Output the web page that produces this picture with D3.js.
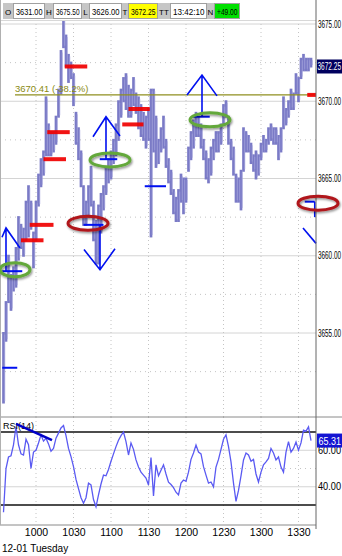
<!DOCTYPE html>
<html>
<head>
<meta charset="utf-8">
<script src="https://cdn.jsdelivr.net/npm/d3@7"></script>
<style>
body { margin: 0; background: #fff; }
svg { display: block; font-family: 'Liberation Sans', Arial, sans-serif; }
</style>
</head>
<body>
<script>
// 2 minute bars, first one at 09:34 (minutes since midnight)
var barStart = 574
var barStep = 2

var highs = [3655.0, 3657.0, 3660.0, 3658.75, 3659.25, 3660.5, 3662.5, 3662.0, 3661.75, 3663.5,
    3664.5, 3663.5, 3661.5, 3663.5, 3665.25, 3666.25, 3666.75, 3670.25, 3668.5, 3668.0,
    3668.0, 3669.0, 3670.75, 3673.25, 3675.5, 3674.25, 3673.0, 3672.5, 3671.75, 3669.25,
    3668.25, 3666.75, 3664.5, 3663.5, 3664.5, 3665.75, 3663.5, 3662.25, 3663.25, 3664.0,
    3664.5, 3665.75, 3666.25, 3666.75, 3667.5, 3668.5, 3670.0, 3670.75, 3671.5, 3671.75,
    3671.0, 3670.75, 3671.5, 3670.5, 3670.25, 3669.75, 3669.25, 3669.0, 3669.5, 3670.75,
    3670.75, 3669.0, 3667.5, 3668.25, 3669.0, 3667.5, 3666.25, 3665.5, 3664.25, 3663.75,
    3664.25, 3665.25, 3665.0, 3665.0, 3667.0, 3668.0, 3668.75, 3669.25, 3669.0, 3668.5,
    3667.5, 3666.75, 3666.25, 3667.0, 3667.5, 3668.0, 3668.0, 3668.5, 3669.75, 3670.0,
    3669.0, 3667.5, 3667.0, 3665.25, 3665.0, 3665.5, 3668.25, 3668.0, 3667.75, 3667.25,
    3666.5, 3666.75, 3666.5, 3667.25, 3667.75, 3667.5, 3668.25, 3668.5, 3668.25, 3668.25,
    3667.75, 3668.25, 3670.25, 3669.5, 3670.0, 3670.75, 3670.5, 3671.75, 3671.5, 3672.75,
    3673.0, 3672.75, 3672.75, 3672.75]

var lows = [3650.5, 3654.5, 3657.0, 3656.5, 3657.75, 3658.0, 3659.75, 3660.5, 3660.0, 3661.0,
    3661.25, 3661.75, 3659.25, 3661.0, 3663.25, 3664.5, 3665.25, 3666.5, 3666.5, 3666.5,
    3666.75, 3667.25, 3669.0, 3670.5, 3673.5, 3672.25, 3671.25, 3671.5, 3669.75, 3667.25,
    3666.25, 3664.5, 3662.0, 3662.0, 3662.5, 3663.25, 3661.0, 3659.5, 3659.5, 3661.5,
    3663.0, 3664.0, 3664.75, 3665.0, 3666.0, 3666.5, 3667.5, 3669.0, 3670.0, 3669.5,
    3669.0, 3669.0, 3669.75, 3669.25, 3668.25, 3667.75, 3667.5, 3667.0, 3667.5, 3661.25,
    3666.75, 3665.75, 3666.0, 3666.75, 3667.0, 3665.75, 3664.75, 3664.0, 3662.75, 3662.25,
    3662.25, 3663.5, 3662.75, 3663.5, 3665.5, 3666.25, 3667.0, 3667.75, 3667.75, 3667.0,
    3666.25, 3665.0, 3664.75, 3665.25, 3666.25, 3666.75, 3666.75, 3667.25, 3668.5, 3669.0,
    3667.25, 3666.25, 3665.25, 3663.5, 3663.5, 3663.0, 3665.5, 3666.75, 3666.75, 3666.0,
    3665.5, 3665.0, 3665.25, 3666.25, 3666.75, 3666.75, 3667.25, 3667.5, 3667.25, 3667.25,
    3666.25, 3666.75, 3668.25, 3668.5, 3669.0, 3669.5, 3669.5, 3670.5, 3670.0, 3671.5,
    3672.0, 3672.0, 3672.0, 3672.25]

var rsi = [26, 50, 56.3, 57, 63, 73, 63, 58, 57.4, 66,
    63, 50, 59, 60, 64, 68.4, 65, 66.6, 63.5, 59.5,
    61, 66.6, 69.4, 72.2, 73.5, 68, 61, 56.5, 51, 44,
    39, 34, 31, 34, 42, 41, 33, 29, 35.5, 41.5,
    46.4, 46, 49.5, 54, 58, 62, 65.5, 68, 70, 64.7,
    57.4, 64, 60.5, 54.7, 50.8, 48, 46.4, 44.8, 41, 56,
    35, 52, 46, 49, 52, 47, 42.5, 41.2, 39.5, 37,
    35.5, 42, 43.7, 43, 48, 55, 58.5, 62.9, 59, 58,
    51, 46.4, 42, 42.6, 40, 50.8, 55, 60.5, 66, 68.4,
    62, 53.6, 42, 32, 38, 46, 54.7, 58.5, 57.4, 54,
    55, 47, 42.6, 48, 52, 53.6, 55.5, 61, 58.5, 54.7,
    56.3, 50.8, 48, 59, 64.7, 59, 61, 64.5, 60, 64,
    71, 70.5, 72.8, 65.31]

var lastPrice = 3672.25
var lastRsi = 65.31
var priceTicks = [3655, 3660, 3665, 3670, 3675]
var priceMinor = [3652.5, 3657.5, 3662.5, 3667.5, 3672.5]
var rsiTicks = [40, 60]
var rsiBands = [30, 70]
var timeTicks = [600, 630, 660, 690, 720, 750, 780, 810]
var timeLabels = ['1000', '1030', '1100', '1130', '1200', '1230', '1300', '1330']
var dateLabel = '12-01 Tuesday'

var headLabels = ['O', 'H', 'L', 'T', 'TT', 'N']
var headValues = ['3631.00', '3675.50', '3626.00', '3672.25', '13:42:10', '+49.00']

var fibPrice = 3670.41
var fibLabel = '3670.41 (-38.2%)'

// red levels: [from, to, price]
var redLevels = [[623, 641, 3672.25], [609, 627, 3668.0], [606, 624, 3666.25], [595, 614, 3662.0],
    [588, 606, 3661.0], [674, 691, 3669.5], [669, 686, 3668.5], [817, 824, fibPrice]]
// blue pivot marks: [from, to, price]
var pivots = [[573, 585, 3652.75], [573, 589, 3659.0], [638, 654, 3662.0], [651, 665, 3666.25],
    [687, 704, 3664.5], [725, 739, 3669.0], [815, 823, 3663.5]]
// arrows: tip, left end, right end, stem end  ([time, price])
var arrows = [
    [[576, 3661.8], [572.8, 3661.2], [587.2, 3660.5], [576, 3659.0]],
    [[651.2, 3659.1], [638.4, 3660.4], [663.2, 3660.45], [651.2, 3662.0]],
    [[656, 3669.0], [645.6, 3667.7], [667.2, 3667.75], [656, 3666.25]],
    [[732.8, 3671.7], [720.8, 3670.4], [744.8, 3670.35], [732.8, 3669.0]]
]
var stubs = [[[823, 3663.5], [823, 3662.5]], [[813.6, 3661.8], [824, 3660.8]]]
// circled setups: [time, price, kind]
var rings = [[583.2, 3659.1, 'g'], [641.6, 3662.1, 'r'], [659.2, 3666.2, 'g'],
    [739.2, 3668.8, 'g'], [825.6, 3663.4, 'r']]
// rsi trend line
var rsiTrend = [[584, 74.4], [612.8, 65.6]]

var width = 342, height = 556
var axisX = 316

var svg = d3.select('body').append('svg')
    .attr('width', width)
    .attr('height', height)

var defs = svg.append('defs')
defs.append('filter').attr('id', 'shade')
    .attr('x', '-30%').attr('y', '-60%').attr('width', '160%').attr('height', '220%')
    .append('feDropShadow')
    .attr('dx', 1).attr('dy', 1.5).attr('stdDeviation', 1.3)
    .attr('flood-color', '#000').attr('flood-opacity', 0.45)
defs.append('clipPath').attr('id', 'plot')
    .append('rect').attr('x', 0).attr('y', 20).attr('width', axisX).attr('height', 397)

var x = d3.scaleLinear().domain([571.2, 824]).range([0, axisX])
var y = d3.scaleLinear().domain([3655, 3675]).range([333, 24])
var yr = d3.scaleLinear().domain([30, 70]).range([505, 432])

function barTime(i) { return barStart + i * barStep }

// price panel grid
var grid = svg.append('g')
grid.selectAll('.hmaj').data(priceTicks).enter().append('line')
    .attr('x1', 0).attr('x2', axisX)
    .attr('y1', d => y(d)).attr('y2', d => y(d))
    .attr('stroke', '#d4d4d4')
grid.selectAll('.hmin').data(priceMinor).enter().append('line')
    .attr('x1', 0).attr('x2', axisX)
    .attr('y1', d => y(d)).attr('y2', d => y(d))
    .attr('stroke', '#c4c4c4').attr('stroke-dasharray', '1,4')
grid.selectAll('.v').data(timeTicks).enter().append('line')
    .attr('x1', d => x(d)).attr('x2', d => x(d))
    .attr('y1', 20).attr('y2', 417)
    .attr('stroke', '#c4c4c4').attr('stroke-dasharray', '1,3')

// rsi grid
grid.selectAll('.rh').data(rsiTicks).enter().append('line')
    .attr('x1', 0).attr('x2', axisX)
    .attr('y1', d => yr(d)).attr('y2', d => yr(d))
    .attr('stroke', '#d4d4d4')
grid.append('line')
    .attr('x1', 0).attr('x2', axisX)
    .attr('y1', yr(50)).attr('y2', yr(50))
    .attr('stroke', '#c4c4c4').attr('stroke-dasharray', '1,4')
grid.selectAll('.rv').data(timeTicks).enter().append('line')
    .attr('x1', d => x(d)).attr('x2', d => x(d))
    .attr('y1', 417).attr('y2', 525)
    .attr('stroke', '#c4c4c4').attr('stroke-dasharray', '1,3')

// price bars
var plot = svg.append('g').attr('clip-path', 'url(#plot)')
plot.selectAll('.bar').data(highs).enter().append('line')
    .attr('x1', (d, i) => x(barTime(i))).attr('x2', (d, i) => x(barTime(i)))
    .attr('y1', d => y(d) - 1).attr('y2', (d, i) => y(lows[i]) + 1)
    .attr('stroke', '#7a7ac6').attr('stroke-width', 2.7)
plot.selectAll('.wick').data(highs).enter().append('line')
    .attr('x1', (d, i) => x(barTime(i)) + 1.25).attr('x2', (d, i) => x(barTime(i)) + 1.25)
    .attr('y1', (d, i) => y(d) + 1.5).attr('y2', (d, i) => y(lows[i]) - 1.5)
    .attr('stroke', '#a2a2dc').attr('stroke-width', 0.7)

// fib line, drawn over the bars
svg.append('line')
    .attr('x1', 15).attr('x2', axisX)
    .attr('y1', y(fibPrice)).attr('y2', y(fibPrice))
    .attr('stroke', '#8f8f1f').attr('stroke-width', 1.2)
svg.append('text')
    .text(fibLabel)
    .attr('x', 15).attr('y', y(fibPrice) - 3)
    .attr('fill', '#8a8a10')
    .style('font-size', '9.5px')

// red levels
svg.selectAll('.red').data(redLevels).enter().append('line')
    .attr('x1', d => x(d[0])).attr('x2', d => x(d[1]))
    .attr('y1', d => y(d[2])).attr('y2', d => y(d[2]))
    .attr('stroke', '#f00000').attr('stroke-width', 4).attr('stroke-opacity', 0.92)

// blue pivots and arrows
var blue = svg.append('g')
    .attr('stroke', '#0010f0').attr('stroke-width', 1.6).attr('fill', 'none')
blue.selectAll('.piv').data(pivots).enter().append('line')
    .attr('x1', d => x(d[0])).attr('x2', d => x(d[1]))
    .attr('y1', d => y(d[2])).attr('y2', d => y(d[2]))
    .attr('stroke-width', 2)
blue.selectAll('.arm').data(arrows).enter().append('path')
    .attr('d', d => 'M' + x(d[1][0]) + ',' + y(d[1][1]) +
        'L' + x(d[0][0]) + ',' + y(d[0][1]) +
        'L' + x(d[2][0]) + ',' + y(d[2][1]) +
        'M' + x(d[0][0]) + ',' + y(d[0][1]) +
        'L' + x(d[3][0]) + ',' + y(d[3][1]))
blue.selectAll('.stub').data(stubs).enter().append('line')
    .attr('x1', d => x(d[0][0])).attr('y1', d => y(d[0][1]))
    .attr('x2', d => x(d[1][0])).attr('y2', d => y(d[1][1]))

// rsi
svg.append('line')
    .attr('x1', 0).attr('x2', axisX)
    .attr('y1', yr(rsiBands[1])).attr('y2', yr(rsiBands[1]))
    .attr('stroke', '#111').attr('stroke-width', 1.5)
svg.append('line')
    .attr('x1', 0).attr('x2', axisX)
    .attr('y1', yr(rsiBands[0])).attr('y2', yr(rsiBands[0]))
    .attr('stroke', '#111').attr('stroke-width', 1.5)

svg.append('path')
    .datum(rsi)
    .attr('fill', 'none')
    .attr('stroke', '#5a5af2').attr('stroke-width', 1.3)
    .attr('d', d3.line().x((d, i) => x(barTime(i))).y(d => yr(d)))

svg.append('text').text('RSI(14)')
    .attr('x', 3).attr('y', 429)
    .style('font-size', '9px')
svg.append('line')
    .attr('x1', x(rsiTrend[0][0])).attr('y1', yr(rsiTrend[0][1]))
    .attr('x2', x(rsiTrend[1][0])).attr('y2', yr(rsiTrend[1][1]))
    .attr('stroke', '#0000c8').attr('stroke-width', 2.5)

// frame
svg.append('line').attr('x1', 0).attr('x2', width).attr('y1', 417).attr('y2', 417)
    .attr('stroke', '#8a8a8a')
svg.append('line').attr('x1', 0).attr('x2', axisX).attr('y1', 525).attr('y2', 525)
    .attr('stroke', '#8a8a8a')
svg.append('line').attr('x1', 0).attr('x2', axisX).attr('y1', 20.5).attr('y2', 20.5)
    .attr('stroke', '#d8d8d8')
svg.append('line').attr('x1', 0.5).attr('x2', 0.5).attr('y1', 0).attr('y2', 525)
    .attr('stroke', '#b0b0b0')
svg.append('line').attr('x1', axisX).attr('x2', axisX).attr('y1', 0).attr('y2', 529)
    .attr('stroke', '#666')

// axes
var yAxis = svg.append('g')
    .attr('transform', 'translate(' + axisX + ',0)')
    .call(d3.axisRight(y).tickValues(priceTicks).tickFormat(d3.format('.2f')).tickSize(0).tickPadding(2))
var rAxis = svg.append('g')
    .attr('transform', 'translate(' + axisX + ',0)')
    .call(d3.axisRight(yr).tickValues(rsiTicks).tickFormat(d3.format('.2f')).tickSize(0).tickPadding(2))
var xAxis = svg.append('g')
    .attr('transform', 'translate(0,525)')
    .call(d3.axisBottom(x).tickValues(timeTicks).tickFormat((d, i) => timeLabels[i]).tickSize(0).tickPadding(4))
svg.selectAll('.domain').remove()
svg.selectAll('.tick text')
    .attr('fill', '#000')
    .style('font-family', "'Liberation Sans', Arial, sans-serif")
yAxis.selectAll('text').style('font-size', '10px').attr('textLength', 23).attr('lengthAdjust', 'spacingAndGlyphs')
rAxis.selectAll('text').style('font-size', '10px').attr('textLength', 23).attr('lengthAdjust', 'spacingAndGlyphs')
xAxis.selectAll('text').style('font-size', '10.5px')

svg.append('text').text(dateLabel)
    .attr('x', 2).attr('y', 552)
    .style('font-size', '10px')

// last value boxes
svg.append('rect')
    .attr('x', axisX + 1).attr('y', y(lastPrice) - 7)
    .attr('width', width - axisX).attr('height', 14)
    .attr('fill', '#00005e')
svg.append('text').text(d3.format('.2f')(lastPrice))
    .attr('x', axisX + 1.5).attr('y', y(lastPrice) + 3.5)
    .attr('fill', '#fff')
    .attr('textLength', 23.5).attr('lengthAdjust', 'spacingAndGlyphs')
    .style('font-size', '10px')
svg.append('rect')
    .attr('x', axisX + 1).attr('y', yr(lastRsi) - 7)
    .attr('width', width - axisX).attr('height', 14)
    .attr('fill', '#1414d2')
svg.append('text').text(d3.format('.2f')(lastRsi))
    .attr('x', axisX + 2.5).attr('y', yr(lastRsi) + 4)
    .attr('fill', '#fff')
    .attr('textLength', 22.5).attr('lengthAdjust', 'spacingAndGlyphs')
    .style('font-size', '10.5px')

// rings
svg.selectAll('.ring').data(rings).enter().append('ellipse')
    .attr('cx', d => x(d[0])).attr('cy', d => y(d[1]))
    .attr('rx', d => d[2] == 'g' && d[0] < 600 ? 15 : 20)
    .attr('ry', 7)
    .attr('fill', 'none')
    .attr('stroke', d => d[2] == 'g' ? '#64a83a' : '#b0161a')
    .attr('stroke-width', 3)
    .attr('filter', 'url(#shade)')

// header strip
var head = svg.append('g').attr('transform', 'translate(3,3)')
var labelW = [10, 8, 7, 6, 12, 7]
var valueW = [32, 29, 33, 30, 37, 26]
var valueFill = ['#fff', '#fff', '#fff', '#ffff00', '#fff', '#00e000']
var hx = 0
headLabels.forEach(function(lab, i) {
    head.append('rect')
        .attr('x', hx).attr('y', 0).attr('width', labelW[i]).attr('height', 16)
        .attr('fill', '#c6c6c6')
    head.append('text').text(lab)
        .attr('x', hx + labelW[i] / 2).attr('y', 11.5)
        .attr('text-anchor', 'middle')
        .style('font-size', '8px')
    hx += labelW[i]
    head.append('rect')
        .attr('x', hx + 0.5).attr('y', 0.5).attr('width', valueW[i] - 1).attr('height', 15)
        .attr('fill', valueFill[i]).attr('stroke', '#a0a0a0')
    head.append('text').text(headValues[i])
        .attr('x', hx + 3).attr('y', 11.5)
        .attr('textLength', valueW[i] - 5.5).attr('lengthAdjust', 'spacingAndGlyphs')
        .style('font-size', '9px')
    hx += valueW[i]
})
</script>
</body>
</html>
